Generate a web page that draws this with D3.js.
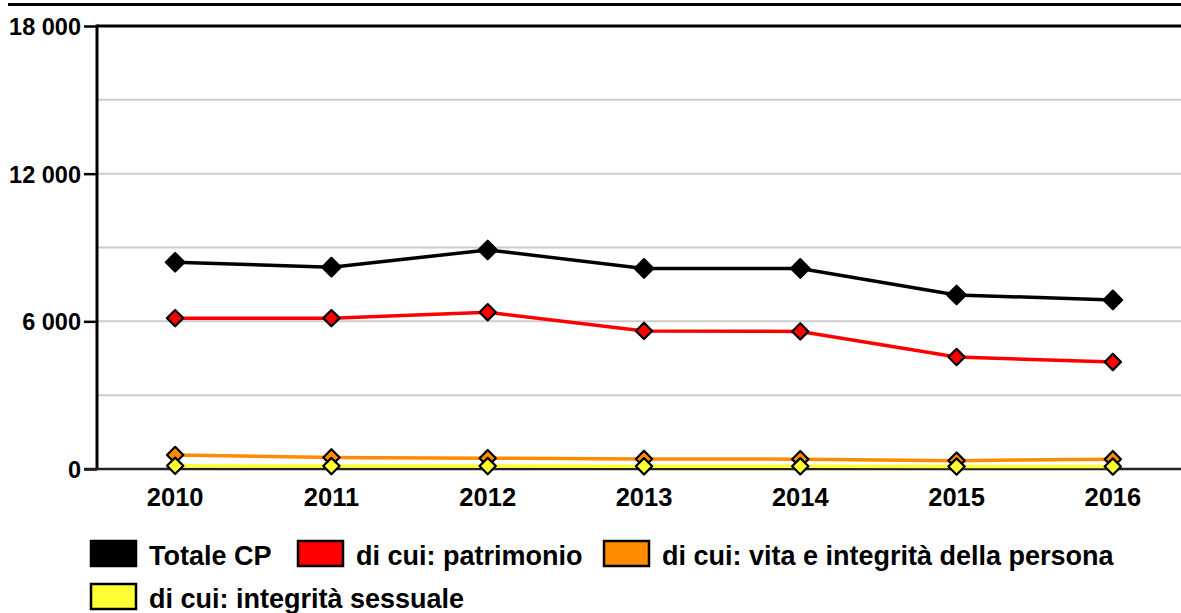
<!DOCTYPE html>
<html>
<head>
<meta charset="utf-8">
<script src="https://cdn.jsdelivr.net/npm/d3@7"></script>
<style>
  html, body { margin: 0; padding: 0; background: #fff; }
  svg { display: block; font-family: "Liberation Sans", Arial, sans-serif; font-weight: bold; }
</style>
</head>
<body>
<svg id="chart" width="1181" height="613"></svg>
<script>
// Anni
const years = ["2010", "2011", "2012", "2013", "2014", "2015", "2016"];

// Serie (numero di casi)
const totaleCP    = [8400, 8200, 8900, 8150, 8150, 7070, 6870];
const patrimonio  = [6130, 6130, 6370, 5610, 5590, 4550, 4350];
const vitaPersona = [570, 470, 440, 410, 400, 340, 400];
const sessuale    = [130, 120, 120, 110, 110, 100, 100];

// Tick dell'asse verticale
const yTickValues = [0, 6000, 12000, 18000];
const yGridValues = [3000, 6000, 9000, 12000, 15000];

const seriesNames  = ["Totale CP", "di cui: patrimonio", "di cui: vita e integrità della persona", "di cui: integrità sessuale"];
const seriesColors = ["#000000", "#ff0000", "#ff8c00", "#ffff33"];

const series = [totaleCP, patrimonio, vitaPersona, sessuale].map((vals, i) => ({
  name: seriesNames[i], color: seriesColors[i], values: vals
}));

const svg = d3.select("#chart");
const plot = { left: 97, right: 1191, top: 26, bottom: 469 };

const x = d3.scaleBand().domain(years).range([plot.left, plot.right]).padding(0);
const cx = d => x(d) + x.bandwidth() / 2;
const y = d3.scaleLinear().domain([0, 18000]).range([plot.bottom, plot.top]);

const fmt = v => d3.format(",")(v).replace(/,/g, " ");

// Riga superiore
svg.append("line")
  .attr("x1", 8).attr("x2", 1181).attr("y1", 4.5).attr("y2", 4.5)
  .attr("stroke", "#000").attr("stroke-width", 3);

// Griglia
svg.append("g").selectAll("line").data(yGridValues).join("line")
  .attr("x1", plot.left).attr("x2", 1181)
  .attr("y1", d => y(d)).attr("y2", d => y(d))
  .attr("stroke", "#cccccc").attr("stroke-width", 2);

// Asse Y
const yAxis = d3.axisLeft(y).tickValues(yTickValues).tickSize(13).tickPadding(3).tickFormat(fmt);
const gy = svg.append("g").attr("transform", `translate(${plot.left},0)`).call(yAxis);
gy.select(".domain").remove();
gy.selectAll(".tick line").attr("stroke", "#000").attr("stroke-width", 2.5);
gy.selectAll(".tick text").attr("fill", "#000").attr("font-size", 23.5)
  .attr("font-family", "Liberation Sans, Arial, sans-serif").attr("font-weight", "bold")
  .attr("dy", "0.36em");

// Bordo superiore e asse sinistro
svg.append("line")
  .attr("x1", plot.left).attr("x2", 1181).attr("y1", plot.top).attr("y2", plot.top)
  .attr("stroke", "#000").attr("stroke-width", 3);
svg.append("line")
  .attr("x1", plot.left).attr("x2", plot.left).attr("y1", plot.top - 1.5).attr("y2", plot.bottom)
  .attr("stroke", "#000").attr("stroke-width", 3);

// Asse X
const xAxis = d3.axisBottom(x).tickSize(0).tickPadding(19);
const gx = svg.append("g").attr("transform", `translate(0,${plot.bottom})`).call(xAxis);
gx.select(".domain").remove();
gx.selectAll(".tick text").attr("fill", "#000").attr("font-size", 25.5)
  .attr("font-family", "Liberation Sans, Arial, sans-serif").attr("font-weight", "bold");
svg.append("line")
  .attr("x1", plot.left - 13).attr("x2", 1181).attr("y1", plot.bottom).attr("y2", plot.bottom)
  .attr("stroke", "#222").attr("stroke-width", 2.5);

// Linee e marcatori
const line = d3.line().x((d, i) => cx(years[i])).y(d => y(d));
const diamond = d3.symbol().type(d3.symbolDiamond2);

const gs = svg.append("g");
series.forEach(s => {
  gs.append("path")
    .attr("d", line(s.values))
    .attr("fill", "none").attr("stroke", s.color).attr("stroke-width", 3.5);
});
series.forEach((s, si) => {
  const size = si === 0 ? 220 : 170;
  gs.append("g").selectAll("path").data(s.values).join("path")
    .attr("transform", (d, i) => `translate(${cx(years[i])},${y(d)})`)
    .attr("d", diamond.size(size)())
    .attr("fill", s.color).attr("stroke", "#000").attr("stroke-width", 2.2)
    .attr("stroke-linejoin", "round");
});

// Legenda
const legendItems = [
  { x: 90, y: 540 }, { x: 297, y: 540 }, { x: 603, y: 540 }, { x: 90, y: 583 }
];
const lg = svg.append("g");
series.forEach((s, i) => {
  const p = legendItems[i];
  lg.append("rect")
    .attr("x", p.x + 1).attr("y", p.y + 1).attr("width", 45).attr("height", 25)
    .attr("fill", s.color).attr("stroke", "#000").attr("stroke-width", 2.5);
  lg.append("text")
    .attr("x", p.x + 59).attr("y", p.y + 25)
    .attr("font-size", 27).attr("fill", "#000")
    .text(s.name);
});
</script>
</body>
</html>
